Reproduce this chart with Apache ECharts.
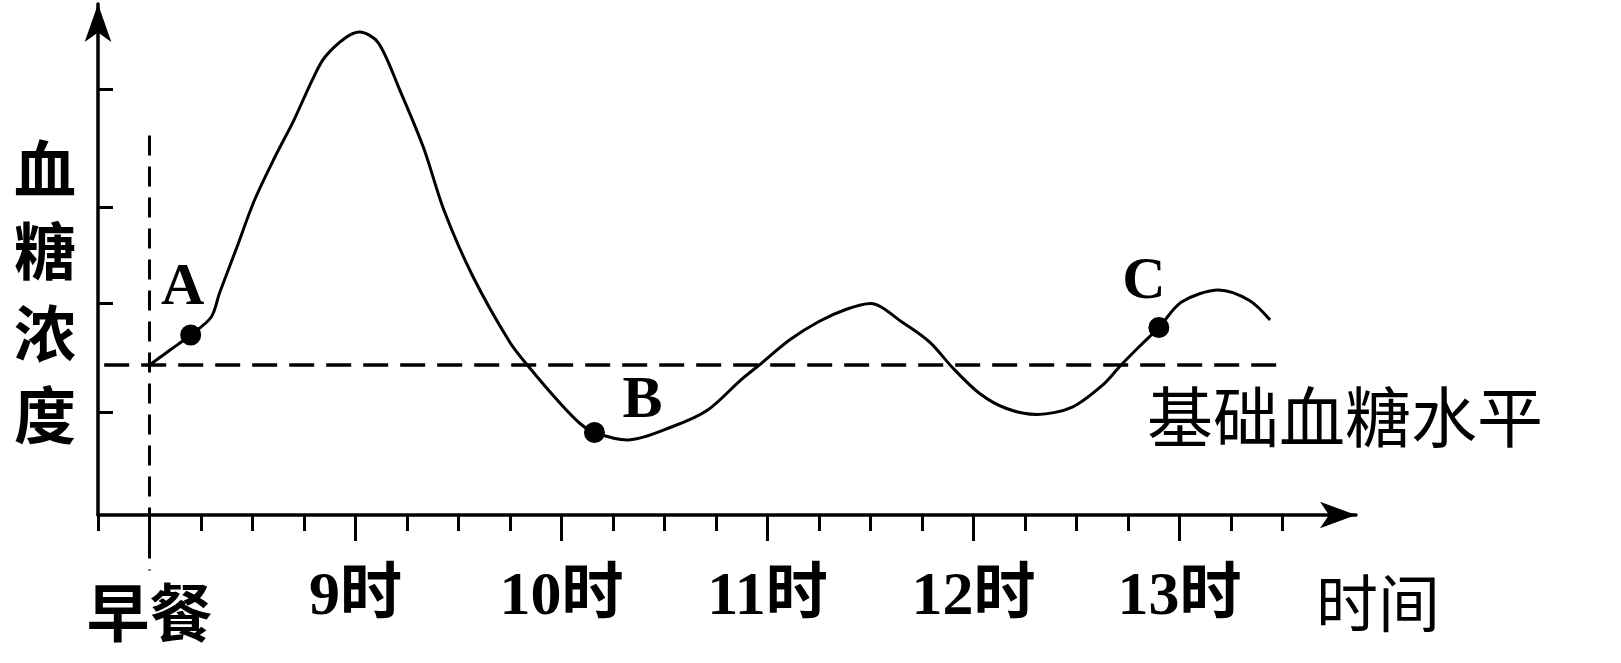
<!DOCTYPE html>
<html>
<head>
<meta charset="utf-8">
<title>血糖浓度</title>
<script src="https://cdn.jsdelivr.net/npm/echarts@6/dist/echarts.min.js"></script>
<style>
  html, body { margin: 0; padding: 0; background: #fff; }
  #chart { width: 1621px; height: 663px; }
</style>
</head>
<body>
<div id="chart"></div>
<script>
// time in hours, concentration in relative units (basal level = 1)
const times = [8.0, 8.10, 8.20, 8.30, 8.34, 8.42, 8.51, 8.61, 8.70, 8.79, 8.85, 8.95, 9.02,
  9.11, 9.21, 9.33, 9.43, 9.57, 9.75, 9.84, 9.99, 10.09, 10.16, 10.32, 10.54, 10.71, 10.87,
  10.96, 11.11, 11.25, 11.38, 11.50, 11.66, 11.79, 11.90, 12.03, 12.16, 12.31, 12.48, 12.63,
  12.71, 12.81, 12.90, 13.01, 13.19, 13.34, 13.44];
const glucose = [1.0, 1.10, 1.20, 1.32, 1.48, 1.77, 2.10, 2.39, 2.63, 2.90, 3.05, 3.18, 3.22,
  3.15, 2.85, 2.45, 2.03, 1.59, 1.15, 0.99, 0.75, 0.61, 0.55, 0.50, 0.59, 0.70, 0.90,
  1.0, 1.17, 1.29, 1.37, 1.41, 1.28, 1.15, 0.98, 0.81, 0.71, 0.67, 0.72, 0.87,
  0.99, 1.13, 1.25, 1.42, 1.50, 1.43, 1.30];

const pointNames = ["A", "B", "C"];
const pointTimes = [8.20, 10.16, 12.90];
const pointValues = [1.20, 0.55, 1.25];
const labelOffsets = [[-8, -47], [48, -31], [-15, -45]];

const basalLevel = 1.0;
const basalRange = [7.78, 13.52];
const breakfastTime = 8;
const breakfastRange = [2.53, -0.37];

const hourTicks = [8, 9, 10, 11, 12, 13];
const quarterTicks = [7.75, 8.25, 8.5, 8.75, 9.25, 9.5, 9.75, 10.25, 10.5, 10.75,
  11.25, 11.5, 11.75, 12.25, 12.5, 12.75, 13.25, 13.5];
const yTicks = [0.687, 1.413, 2.053, 2.84];

const chart = echarts.init(document.getElementById("chart"));

const serif = '"Liberation Serif", "Noto Sans CJK SC", serif';
const cjk = '"Noto Sans CJK SC", sans-serif';

const xRange = { min: 7.75, max: 13.857 };

const options = {
    animation: false,
    grid: { left: 98, top: 4, width: 1258, height: 511, containLabel: false },
    xAxis: [
        {
            type: "value",
            min: xRange.min,
            max: xRange.max,
            axisLine: {
                show: true,
                symbol: ["none", "arrow"],
                symbolSize: [20, 36],
                lineStyle: { color: "#000", width: 3.5 },
            },
            axisTick: {
                show: true,
                customValues: quarterTicks,
                length: 16,
                lineStyle: { color: "#000", width: 3 },
            },
            axisLabel: { show: false },
            splitLine: { show: false },
        },
        {
            type: "value",
            position: "bottom",
            min: xRange.min,
            max: xRange.max,
            axisLine: { show: false },
            axisTick: {
                show: true,
                customValues: hourTicks,
                length: 26,
                lineStyle: { color: "#000", width: 3 },
            },
            axisLabel: {
                show: true,
                customValues: hourTicks,
                margin: 52,
                color: "#000",
                fontFamily: serif,
                fontWeight: "bold",
                fontSize: 62,
                formatter: (v) => (v === breakfastTime ? "{meal|早餐}" : v + "时"),
                rich: {
                    meal: {
                        fontFamily: cjk,
                        fontWeight: "bold",
                        fontSize: 63,
                        color: "#000",
                        padding: [14, 0, 0, 0],
                    },
                },
            },
            splitLine: { show: false },
        },
    ],
    yAxis: {
        type: "value",
        min: 0,
        max: 3.407,
        axisLine: {
            show: true,
            symbol: ["none", "arrow"],
            symbolSize: [20, 38],
            lineStyle: { color: "#000", width: 3.5 },
        },
        axisTick: {
            show: true,
            inside: true,
            customValues: yTicks,
            length: 15,
            lineStyle: { color: "#000", width: 3 },
        },
        axisLabel: { show: false },
        splitLine: { show: false },
    },
    graphic: [
        {
            type: "text",
            left: 14,
            top: 128,
            style: {
                text: "血\n糖\n浓\n度",
                font: 'bold 62px "Noto Sans CJK SC"',
                lineHeight: 82,
                fill: "#000",
            },
        },
        {
            type: "text",
            left: 1147,
            top: 384,
            style: {
                text: "基础血糖水平",
                font: '66px "Noto Sans CJK SC"',
                fill: "#000",
            },
        },
        {
            type: "text",
            left: 1316,
            top: 572,
            style: {
                text: "时间",
                font: '62px "Noto Sans CJK SC"',
                fill: "#000",
            },
        },
    ],
    series: [
        {
            name: "basal",
            type: "line",
            symbol: "none",
            silent: true,
            data: basalRange.map((t) => [t, basalLevel]),
            lineStyle: { color: "#000", width: 3.5, type: [25, 12] },
            z: 1,
        },
        {
            name: "breakfast",
            type: "line",
            symbol: "none",
            silent: true,
            clip: false,
            data: breakfastRange.map((v) => [breakfastTime, v]),
            lineStyle: { color: "#000", width: 3, type: [20, 11] },
            z: 1,
        },
        {
            name: "glucose",
            type: "line",
            smooth: 0.3,
            symbol: "none",
            data: times.map((t, i) => [t, glucose[i]]),
            lineStyle: { color: "#000", width: 3 },
            z: 3,
        },
        {
            name: "points",
            type: "scatter",
            symbolSize: 21,
            itemStyle: { color: "#000", opacity: 1 },
            data: pointNames.map((n, i) => ({
                name: n,
                value: [pointTimes[i], pointValues[i]],
                label: { offset: labelOffsets[i] },
            })),
            label: {
                show: true,
                position: "inside",
                formatter: "{b}",
                color: "#000",
                opacity: 1,
                fontFamily: "Liberation Serif",
                fontWeight: "bold",
                fontSize: 60,
            },
            z: 4,
        },
    ],
};

chart.setOption(options);
</script>
</body>
</html>
